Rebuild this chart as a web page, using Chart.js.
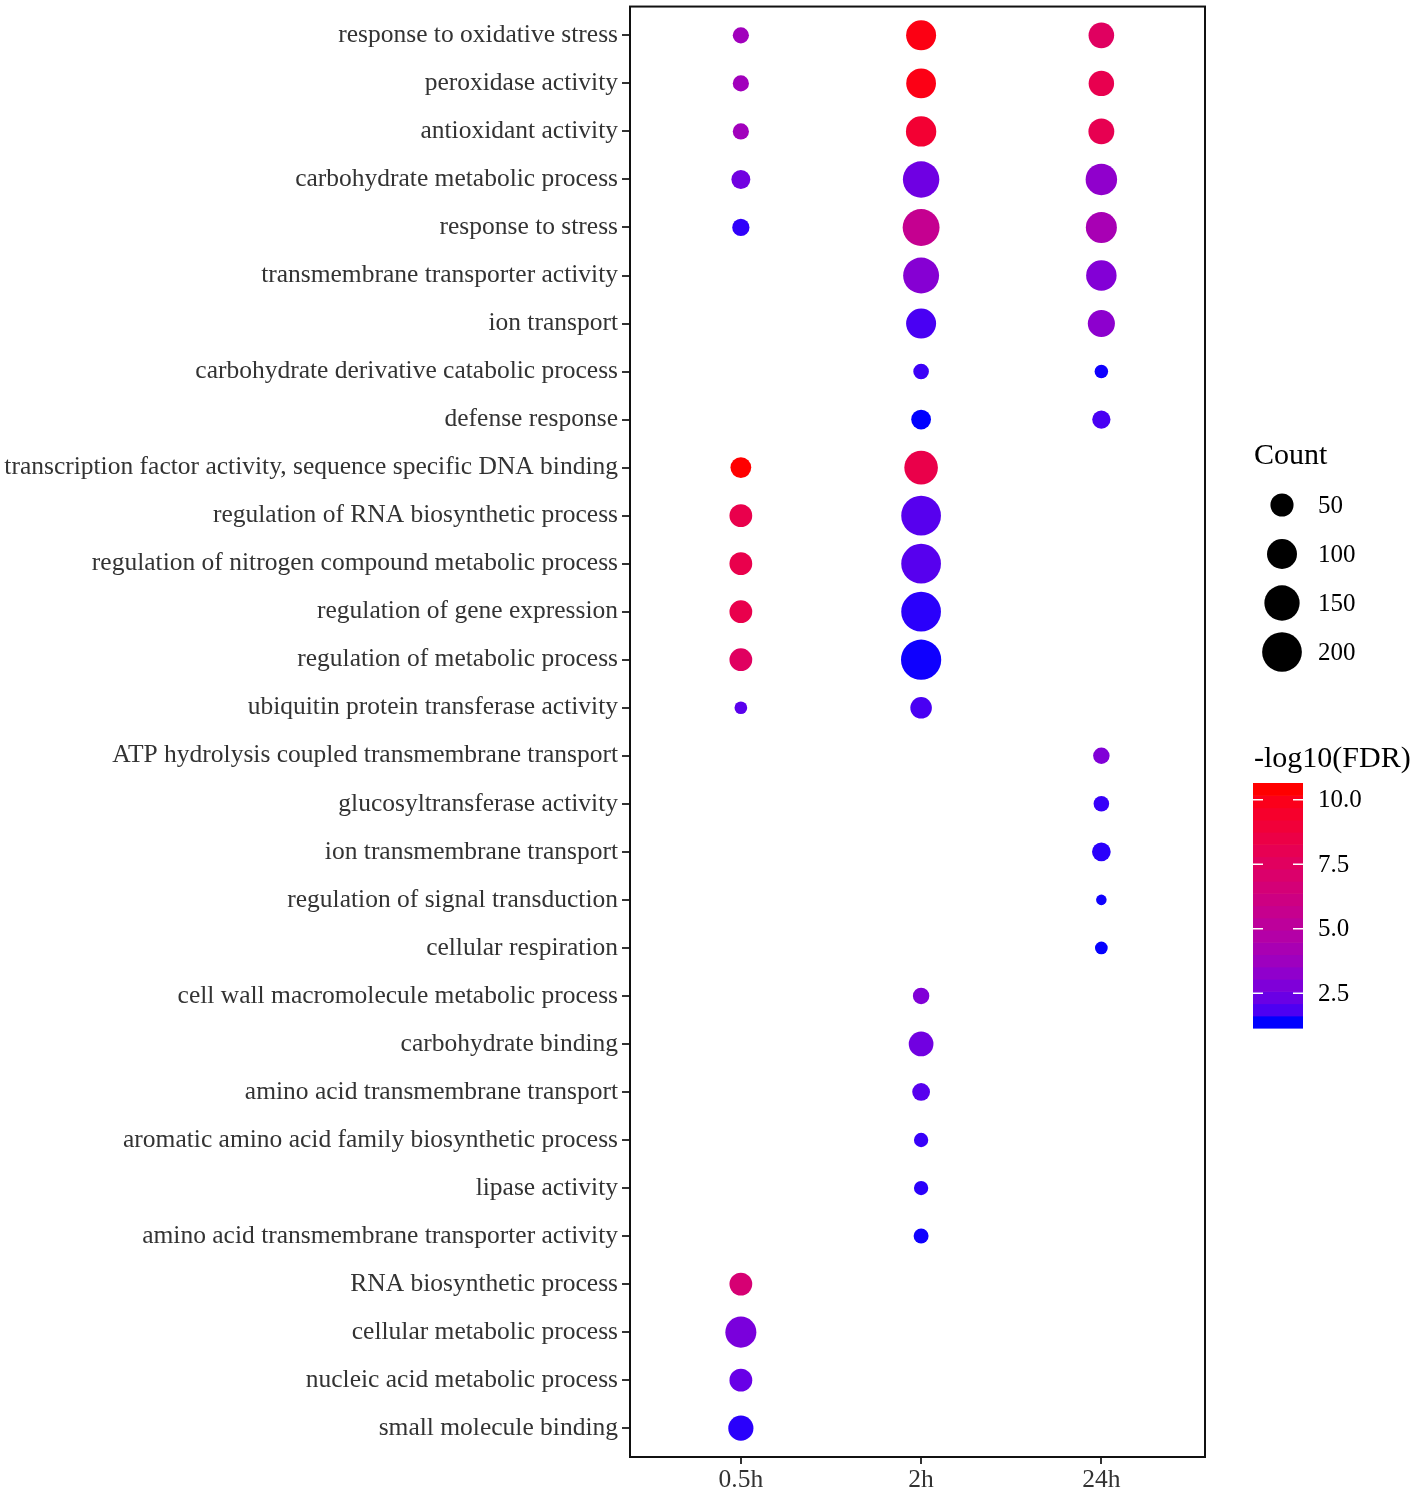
<!DOCTYPE html>
<html>
<head>
<meta charset="utf-8">
<script src="https://cdn.jsdelivr.net/npm/chart.js@4.4.1/dist/chart.umd.min.js"></script>
<style>
  body { margin: 0; background: #fff; }
  canvas { display: block; }
</style>
</head>
<body>
<canvas id="goDotChart" width="1418" height="1492" style="width:1418px;height:1492px"></canvas>
<script>
// GO terms, top to bottom
const terms = [
    "response to oxidative stress",
    "peroxidase activity",
    "antioxidant activity",
    "carbohydrate metabolic process",
    "response to stress",
    "transmembrane transporter activity",
    "ion transport",
    "carbohydrate derivative catabolic process",
    "defense response",
    "transcription factor activity, sequence specific DNA binding",
    "regulation of RNA biosynthetic process",
    "regulation of nitrogen compound metabolic process",
    "regulation of gene expression",
    "regulation of metabolic process",
    "ubiquitin protein transferase activity",
    "ATP hydrolysis coupled transmembrane transport",
    "glucosyltransferase activity",
    "ion transmembrane transport",
    "regulation of signal transduction",
    "cellular respiration",
    "cell wall macromolecule metabolic process",
    "carbohydrate binding",
    "amino acid transmembrane transport",
    "aromatic amino acid family biosynthetic process",
    "lipase activity",
    "amino acid transmembrane transporter activity",
    "RNA biosynthetic process",
    "cellular metabolic process",
    "nucleic acid metabolic process",
    "small molecule binding"
];
const timePoints = ["0.5h", "2h", "24h"];

// gene counts per term (null = not enriched)
const count05h = [17, 17, 17, 28, 21, null, null, null, null, 37, 48, 48, 48, 48, 7,
    null, null, null, null, null, null, null, null, null, null, null, 48, 109, 48, 63];
const count2h = [100, 98, 103, 162, 167, 157, 100, 15, 32, 133, 200, 200, 200, 206, 41,
    null, null, null, null, null, 18, 60, 23, 11, 11, 13, null, null, null, null];
const count24h = [66, 65, 68, 113, 109, 104, 77, 9, 25, null, null, null, null, null, null,
    18, 15, 27, 3, 7, null, null, null, null, null, null, null, null, null, null];

// -log10(FDR) per term
const fdr05h = [3.8, 3.8, 3.8, 2.3, 1.35, null, null, null, null, 10.65, 8.4, 8.4, 8.4, 7.6, 1.85,
    null, null, null, null, null, null, null, null, null, null, null, 6.8, 2.5, 2.1, 1.3];
const fdr2h = [10.35, 10.3, 9.4, 2.25, 5.6, 2.85, 1.6, 1.45, 1.15, 8.5, 1.8, 1.8, 1.3, 1.18, 1.6,
    null, null, null, null, null, 2.7, 2.3, 1.8, 1.4, 1.3, 1.18, null, null, null, null];
const fdr24h = [7.6, 8.3, 8.2, 3.15, 4.1, 2.75, 3.05, 1.18, 1.6, null, null, null, null, null, null,
    2.7, 1.4, 1.3, 1.18, 1.16, null, null, null, null, null, null, null, null, null, null];

// legend values
const countLegend = [50, 100, 150, 200];
const fdrTicks = [2.5, 5.0, 7.5, 10.0];

const allCounts = [count05h, count2h, count24h];
const allFdr = [fdr05h, fdr2h, fdr24h];

const flatFdr = [].concat(...allFdr).filter(v => v !== null);
const fdrMin = Math.min(...flatFdr);
const fdrMax = Math.max(...flatFdr);

// dot radius from count
function radiusFor(count) {
    return (6.5 + 2.35 * Math.sqrt(count)) / 2;
}

// blue -> red gradient interpolated in CIELAB like ggplot
function toLinear(c) { c /= 255; return c <= 0.04045 ? c / 12.92 : Math.pow((c + 0.055) / 1.055, 2.4); }
function fromLinear(c) { c = c <= 0.0031308 ? 12.92 * c : 1.055 * Math.pow(c, 1 / 2.4) - 0.055; return Math.round(Math.max(0, Math.min(1, c)) * 255); }
function rgbToLab(rgb) {
    const r = toLinear(rgb[0]), g = toLinear(rgb[1]), b = toLinear(rgb[2]);
    let x = (0.4124 * r + 0.3576 * g + 0.1805 * b) / 0.95047;
    let y = (0.2126 * r + 0.7152 * g + 0.0722 * b);
    let z = (0.0193 * r + 0.1192 * g + 0.9505 * b) / 1.08883;
    const f = t => t > 0.008856 ? Math.cbrt(t) : 7.787 * t + 16 / 116;
    x = f(x); y = f(y); z = f(z);
    return [116 * y - 16, 500 * (x - y), 200 * (y - z)];
}
function labToRgb(lab) {
    const fy = (lab[0] + 16) / 116, fx = fy + lab[1] / 500, fz = fy - lab[2] / 200;
    const inv = t => t * t * t > 0.008856 ? t * t * t : (t - 16 / 116) / 7.787;
    const x = inv(fx) * 0.95047, y = inv(fy), z = inv(fz) * 1.08883;
    const r = 3.2406 * x - 1.5372 * y - 0.4986 * z;
    const g = -0.9689 * x + 1.8758 * y + 0.0415 * z;
    const b = 0.0557 * x - 0.2040 * y + 1.0570 * z;
    return [fromLinear(r), fromLinear(g), fromLinear(b)];
}
const labLow = rgbToLab([0, 0, 255]);
const labHigh = rgbToLab([255, 0, 0]);
function colorFor(v) {
    const t = Math.max(0, Math.min(1, (v - fdrMin) / (fdrMax - fdrMin)));
    const lab = [0, 1, 2].map(i => labLow[i] + (labHigh[i] - labLow[i]) * t);
    const c = labToRgb(lab);
    return "rgb(" + c[0] + "," + c[1] + "," + c[2] + ")";
}

// build one dataset per time point
const dataSets = timePoints.map((tp, ti) => {
    const points = [];
    for (var i = 0; i < terms.length; i++) {
        if (allCounts[ti][i] !== null) {
            points.push({ x: ti + 1, y: i + 1, r: radiusFor(allCounts[ti][i]), fdr: allFdr[ti][i] });
        }
    }
    return {
        label: tp,
        data: points,
        backgroundColor: ctx => colorFor(ctx.raw.fdr),
        borderWidth: 0,
        hoverBorderWidth: 0
    };
});

const serif = "'Liberation Serif', 'Times New Roman', serif";

// panel border + size and colour legends
const legendPlugin = {
    id: "dotLegend",
    afterDraw(chart) {
        const ctx = chart.ctx;
        const area = chart.chartArea;
        ctx.save();
        ctx.strokeStyle = "#111";
        ctx.lineWidth = 2;
        ctx.strokeRect(area.left, area.top, area.right - area.left, area.bottom - area.top);

        // Count legend
        ctx.fillStyle = "#000";
        ctx.font = "30px " + serif;
        ctx.textBaseline = "alphabetic";
        ctx.textAlign = "left";
        ctx.fillText("Count", 1254, 464);
        ctx.font = "25px " + serif;
        ctx.textBaseline = "middle";
        countLegend.forEach((c, i) => {
            const cy = 505 + i * 49;
            ctx.beginPath();
            ctx.arc(1282, cy, radiusFor(c), 0, Math.PI * 2);
            ctx.fill();
            ctx.fillText(String(c), 1318, cy + 1);
        });

        // colour bar
        ctx.textBaseline = "alphabetic";
        ctx.font = "30px " + serif;
        ctx.fillText("-log10(FDR)", 1254, 767);
        const barLeft = 1253, barW = 50, barTop = 783, barBottom = 1028;
        const nbin = 20;
        const cell = (barBottom - barTop) / nbin;
        for (var b = 0; b < nbin; b++) {
            const v = fdrMin + (fdrMax - fdrMin) * b / (nbin - 1);
            ctx.fillStyle = colorFor(v);
            ctx.fillRect(barLeft, barBottom - (b + 1) * cell, barW, cell + 0.6);
        }
        ctx.strokeStyle = "#fff";
        ctx.lineWidth = 1.5;
        ctx.fillStyle = "#000";
        ctx.font = "25px " + serif;
        ctx.textBaseline = "middle";
        fdrTicks.forEach(t => {
            const y = barBottom - (t - fdrMin) / (fdrMax - fdrMin) * (barBottom - barTop);
            ctx.beginPath();
            ctx.moveTo(barLeft, y); ctx.lineTo(barLeft + 10, y);
            ctx.moveTo(barLeft + barW - 10, y); ctx.lineTo(barLeft + barW, y);
            ctx.stroke();
            ctx.fillText(t.toFixed(1), 1318, y + 1);
        });
        ctx.restore();
    }
};

const ctx = document.getElementById("goDotChart").getContext("2d");
const chartObject = new Chart(ctx, {
    type: "bubble",
    data: { datasets: dataSets },
    plugins: [legendPlugin],
    options: {
        responsive: false,
        animation: false,
        devicePixelRatio: 1,
        // no automatic room for bubble radius, the panel keeps its own margins
        layout: { autoPadding: false, padding: { left: 0, right: 213, top: 3, bottom: 0 } },
        plugins: { legend: { display: false }, tooltip: { enabled: false } },
        scales: {
            x: {
                type: "linear",
                min: 0.385,
                max: 3.575,
                afterBuildTicks: scale => { scale.ticks = timePoints.map((t, i) => ({ value: i + 1 })); },
                afterFit: scale => { scale.height = 35; },
                ticks: {
                    callback: v => timePoints[v - 1],
                    font: { family: serif, size: 25.5 },
                    color: "#333",
                    padding: 1
                },
                grid: { drawOnChartArea: false, tickLength: 7, color: "#333", lineWidth: 2 },
                border: { display: true, color: "#111", width: 2 }
            },
            y: {
                type: "linear",
                reverse: true,
                min: 0.4,
                max: 30.6,
                afterBuildTicks: scale => { scale.ticks = terms.map((t, i) => ({ value: i + 1 })); },
                afterFit: scale => { scale.width = 630; },
                ticks: {
                    autoSkip: false,
                    callback: v => terms[v - 1],
                    font: { family: serif, size: 25.5, lineHeight: 0.2 },
                    color: "#333",
                    padding: 4
                },
                grid: { drawOnChartArea: false, tickLength: 8, color: "#333", lineWidth: 2 },
                border: { display: true, color: "#111", width: 2 }
            }
        }
    }
});
</script>
</body>
</html>
